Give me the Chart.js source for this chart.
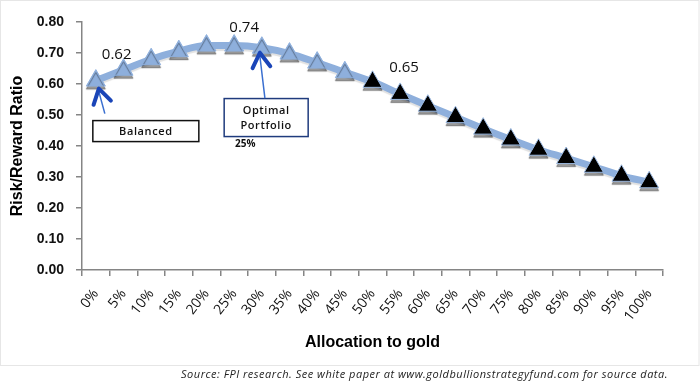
<!DOCTYPE html>
<html lang="en">
<head>
  <meta charset="UTF-8" />
  <title>Risk/Reward Ratio vs Allocation to gold</title>
  <script src="https://cdn.jsdelivr.net/npm/chart.js"></script>
  <style>
    html, body { margin: 0; padding: 0; background: #fff; }
    #wrap { width: 700px; height: 386px; }
  </style>
</head>
<body>
  <div id="wrap"><canvas id="chart" width="700" height="386"></canvas></div>

  <script>
    // data
    const categories = ['0%', '5%', '10%', '15%', '20%', '25%', '30%', '35%', '40%', '45%', '50%',
                        '55%', '60%', '65%', '70%', '75%', '80%', '85%', '90%', '95%', '100%'];
    const ratios = [0.611, 0.646, 0.680, 0.706, 0.724, 0.724, 0.717, 0.698, 0.669, 0.638, 0.607,
                    0.568, 0.530, 0.493, 0.456, 0.421, 0.388, 0.361, 0.333, 0.304, 0.283];
    const yTicks = [0, 0.1, 0.2, 0.3, 0.4, 0.5, 0.6, 0.7, 0.8];
    const callouts = ['0.62', '0.74', '0.65'];
    const sourceNote = 'Source: FPI research. See white paper at www.goldbullionstrategyfund.com for source data.';

    const blackFrom = categories.indexOf('50%');
    const lineBlue = '#8eafdc';
    const arrowBlue = '#1a45b8';
    const axisGrey = '#858585';

    // drop shadow: faint under the line, stronger under the triangles
    const shadowPlugin = {
      id: 'shadow',
      beforeDatasetDraw(chart, args) {
        const ctx = chart.ctx;
        ctx.save();
        const pts = chart.data.datasets[args.index].showLine === false;
        ctx.shadowColor = pts ? 'rgba(0,0,0,0.4)' : 'rgba(0,0,0,0.12)';
        ctx.shadowBlur = 1;
        ctx.shadowOffsetY = pts ? 3 : 2;
      },
      afterDatasetDraw(chart) {
        chart.ctx.restore();
      }
    };

    function arrow(ctx, tipX, tipY, tailX, tailY) {
      const ang = Math.atan2(tailY - tipY, tailX - tipX);
      ctx.strokeStyle = '#3a6fd0';
      ctx.lineWidth = 1.5;
      ctx.beginPath();
      ctx.moveTo(tipX, tipY + 3);
      ctx.lineTo(tailX, tailY);
      ctx.stroke();
      ctx.strokeStyle = arrowBlue;
      ctx.lineWidth = 4;
      ctx.lineCap = 'round';
      ctx.lineJoin = 'round';
      ctx.beginPath();
      ctx.moveTo(tipX + Math.cos(ang - 0.55) * 17, tipY + Math.sin(ang - 0.55) * 17);
      ctx.lineTo(tipX, tipY);
      ctx.lineTo(tipX + Math.cos(ang + 0.55) * 17, tipY + Math.sin(ang + 0.55) * 17);
      ctx.stroke();
    }

    const notesPlugin = {
      id: 'notes',
      afterDraw(chart) {
        const ctx = chart.ctx;
        const xs = chart.scales.x, ys = chart.scales.y;
        const px = i => xs.getPixelForValue(i);
        const py = i => ys.getPixelForValue(ratios[i]);
        ctx.save();

        // frame round the chart
        ctx.strokeStyle = '#e6e6e6';
        ctx.lineWidth = 1;
        ctx.strokeRect(0.5, 0.5, 698.5, 365);

        // value call-outs
        ctx.fillStyle = '#111';
        ctx.font = '15px "Open Sans"';
        ctx.textBaseline = 'alphabetic';
        ctx.textAlign = 'left';
        ctx.fillText(callouts[0], px(0) + 6, py(0) - 22);
        ctx.textAlign = 'center';
        ctx.fillText(callouts[1], px(5) + 10, py(5) - 14);
        ctx.textAlign = 'left';
        ctx.fillText(callouts[2], px(11) - 11, py(11) - 22);

        // Balanced box
        const bx = px(0) - 3, by = py(0) + 40;
        ctx.strokeStyle = '#111';
        ctx.lineWidth = 1.5;
        ctx.strokeRect(bx, by, 106, 21);
        ctx.font = '600 11px "Open Sans"';
        ctx.letterSpacing = '0.6px';
        ctx.textAlign = 'center';
        ctx.textBaseline = 'middle';
        ctx.fillStyle = '#111';
        ctx.fillText('Balanced', bx + 53, by + 11);

        // Optimal portfolio box
        const ox = px(5) - 10, oy = py(5) + 53;
        ctx.strokeStyle = '#1f3b7d';
        ctx.strokeRect(ox, oy, 84, 38);
        ctx.fillText('Optimal', ox + 42, oy + 12);
        ctx.fillText('Portfolio', ox + 42, oy + 27);
        ctx.letterSpacing = '0px';
        ctx.font = 'bold 10px "Open Sans"';
        ctx.fillText('25%', ox + 21, oy + 46);

        // arrows
        arrow(ctx, px(0) + 3, py(0) + 8, px(0) + 9, by - 7);
        arrow(ctx, px(6) - 2, py(6) + 5, px(6) + 3, oy - 1);

        // source note
        ctx.font = 'italic 11px "Open Sans"';
        ctx.textAlign = 'right';
        ctx.textBaseline = 'alphabetic';
        ctx.fillStyle = '#222';
        const w = ctx.measureText(sourceNote).width;
        ctx.letterSpacing = ((486 - w) / (sourceNote.length - 1)).toFixed(2) + 'px';
        ctx.fillText(sourceNote, 668, 378);
        ctx.restore();
      }
    };

    new Chart(document.getElementById('chart'), {
      type: 'line',
      data: {
        labels: categories,
        datasets: [{
          data: ratios,
          order: 2,
          borderColor: lineBlue,
          borderWidth: 7,
          tension: 0.4,
          cubicInterpolationMode: 'monotone',
          fill: false,
          pointRadius: 0
        }, {
          data: ratios,
          order: 1,
          showLine: false,
          pointStyle: 'triangle',
          pointRadius: 11,
          pointBackgroundColor: c => c.dataIndex >= blackFrom ? '#000' : lineBlue,
          pointBorderColor: c => c.dataIndex >= blackFrom ? '#9dbbe3' : lineBlue,
          pointBorderWidth: 1
        }]
      },
      options: {
        responsive: false,
        animation: false,
        layout: { padding: { left: 4, top: 22, right: 37, bottom: 30 } },
        plugins: { legend: { display: false }, tooltip: { enabled: false } },
        scales: {
          x: {
            offset: true,
            grid: { display: true, drawOnChartArea: false, offset: true, tickLength: 6, color: axisGrey, lineWidth: 1.5 },
            border: { color: axisGrey, width: 1.5 },
            ticks: { minRotation: 52, maxRotation: 52, padding: 10, color: '#111', font: { family: 'Open Sans', size: 14 } },
            title: { display: true, text: 'Allocation to gold', color: '#000',
                     font: { family: 'Liberation Sans', size: 16, weight: 'bold' }, padding: { top: 0, bottom: 4 } },
            afterFit: s => { s.height = 86; }
          },
          y: {
            min: 0,
            max: 0.8,
            afterBuildTicks: s => { s.ticks = yTicks.map(v => ({ value: v })); },
            grid: { display: true, drawOnChartArea: false, tickLength: 6, color: axisGrey, lineWidth: 1.5 },
            border: { color: axisGrey, width: 1.5 },
            ticks: { padding: 12, color: '#111', font: { family: 'Liberation Sans', size: 14, weight: 'bold' },
                     callback: v => v.toFixed(2) },
            title: { display: true, text: 'Risk/Reward Ratio', color: '#000',
                     font: { family: 'Liberation Sans', size: 16, weight: 'bold' }, padding: 4 },
            afterFit: s => { s.width = 78; }
          }
        }
      },
      plugins: [shadowPlugin, notesPlugin]
    });
  </script>
</body>
</html>
